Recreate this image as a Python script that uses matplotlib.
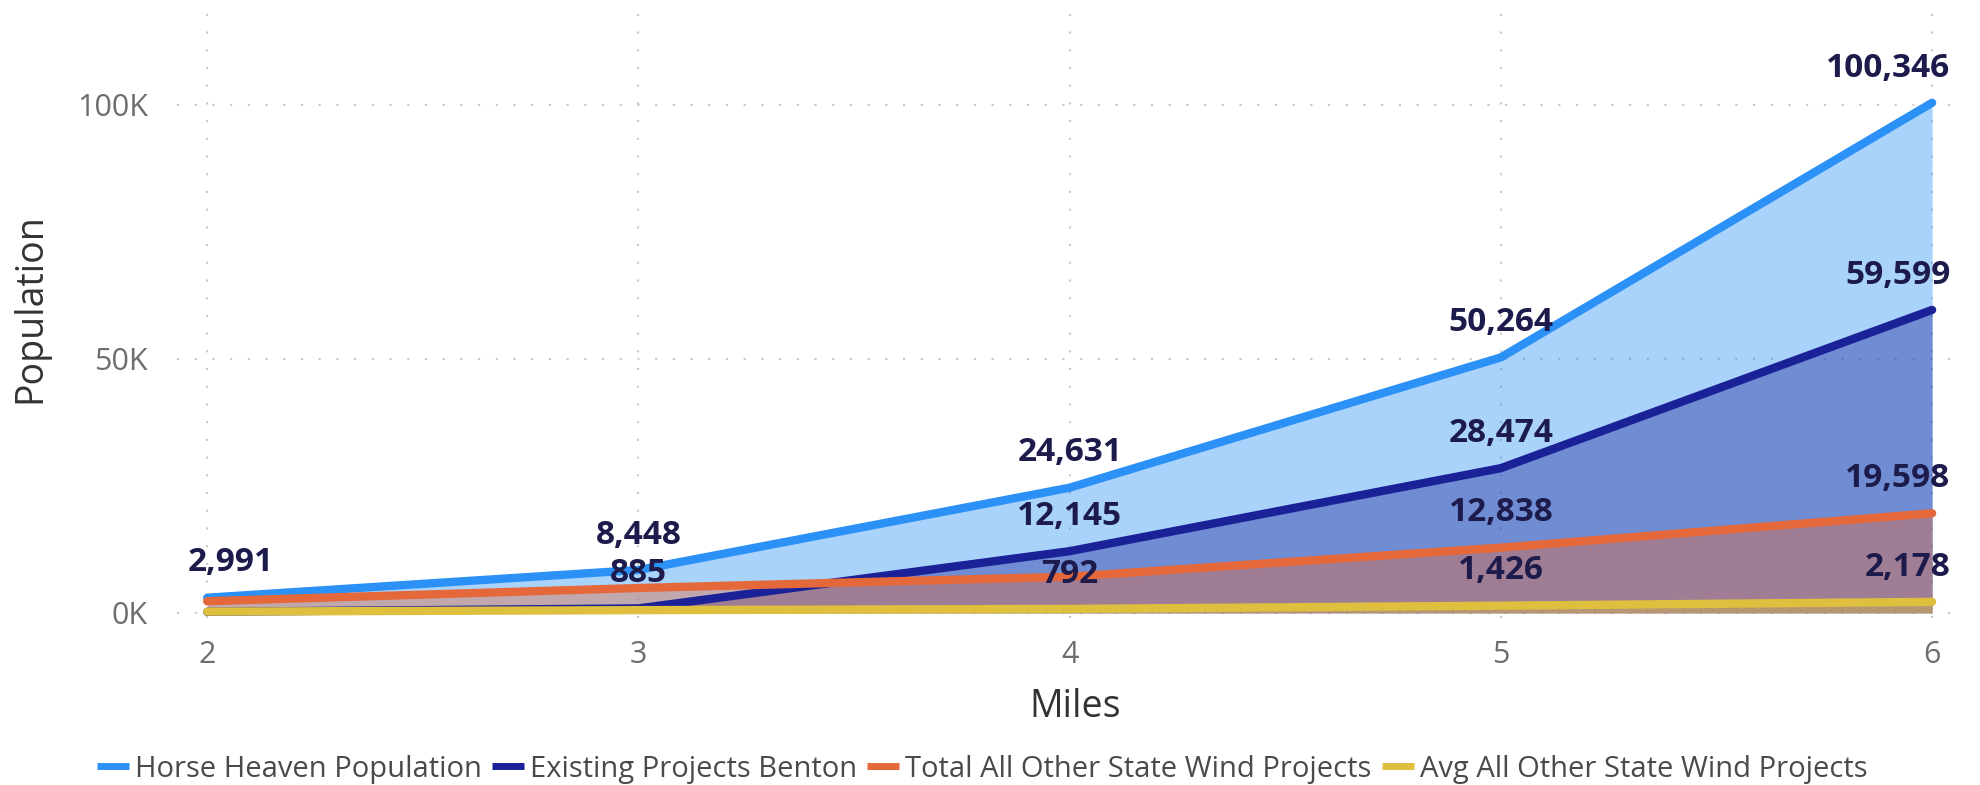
import matplotlib
matplotlib.use("Agg")
import matplotlib.pyplot as plt
from matplotlib.ticker import FuncFormatter
from matplotlib.lines import Line2D

plt.rcParams['font.family'] = ['Open Sans', 'DejaVu Sans']

# data
miles = [2, 3, 4, 5, 6]
horse_heaven = [2991, 8448, 24631, 50264, 100346]
existing_benton = [220, 885, 12145, 28474, 59599]
total_other = [2300, 4900, 7128, 12838, 19598]
avg_other = [256, 544, 792, 1426, 2178]

series_names = ['Horse Heaven Population', 'Existing Projects Benton',
                'Total All Other State Wind Projects', 'Avg All Other State Wind Projects']
series_values = [horse_heaven, existing_benton, total_other, avg_other]
colors = ['#2C91F7', '#1B2298', '#E5683A', '#DFBF3E']
# which data labels are visible in the original
shown = [[True, True, True, True, True],
         [False, True, True, True, True],
         [False, False, False, True, True],
         [False, False, True, True, True]]

fig = plt.figure(figsize=(19.8, 7.85), dpi=100)
ax = fig.add_axes([177/1980, 1-618/785, (1958-177)/1980, (618-13)/785])

grid_kw = dict(color='#C8C8C8', lw=1.5, ls=(0, (1, 7.5)), zorder=0)
for x in miles:
    ax.axvline(x, **grid_kw)
for y in [0, 50000, 100000]:
    ax.axhline(y, **grid_kw)

for i, (vals, c) in enumerate(zip(series_values, colors)):
    ax.fill_between(miles, 0, vals, color=c, alpha=0.4, lw=0, zorder=1+i)
for i, (vals, c) in enumerate(zip(series_values, colors)):
    ax.plot(miles, vals, color=c, lw=6, solid_capstyle='round', solid_joinstyle='round',
            zorder=10+i, clip_on=False)

for vals, sh in zip(series_values, shown):
    for x, v, s in zip(miles, vals, sh):
        if not s:
            continue
        ha, dx = 'center', 0
        if x == miles[0]:
            ha, dx = 'left', -14
        elif x == miles[-1]:
            ha, dx = 'right', 13
        ax.annotate(f"{v:,}", (x, v), xytext=(dx, 25), textcoords='offset points',
                    ha=ha, va='center', fontsize=24, fontweight='bold', color='#1C1B4B',
                    zorder=20)

ax.set_xlim(1.93, 6.06)
ax.set_ylim(-1000, 118000)
ax.set_xticks(miles)
ax.set_yticks([0, 50000, 100000])
ax.yaxis.set_major_formatter(FuncFormatter(lambda v, p: f"{int(v/1000)}K"))
ax.tick_params(length=0, labelsize=22, labelcolor='#6E6E6E')
ax.tick_params(axis='y', pad=21)
ax.tick_params(axis='x', pad=16)
for s in ax.spines.values():
    s.set_visible(False)

fig.text(1075/1980, 1-707/785, 'Miles', ha='center', va='center', fontsize=27, color='#333333')
fig.text(30/1980, 1-308/785, 'Population', ha='center', va='center', rotation=90,
         fontsize=27, color='#333333')

handles = [Line2D([0], [0], color=c, lw=5, solid_capstyle='butt') for c in colors]
fig.legend(handles, series_names, loc='center', bbox_to_anchor=(982/1980, 1-769/785),
           ncol=4, frameon=False, fontsize=21, labelcolor='#4A4A4A',
           handlelength=1.1, handletextpad=0.2, columnspacing=0.35, borderpad=0)

fig.savefig('out.png', dpi=100)
